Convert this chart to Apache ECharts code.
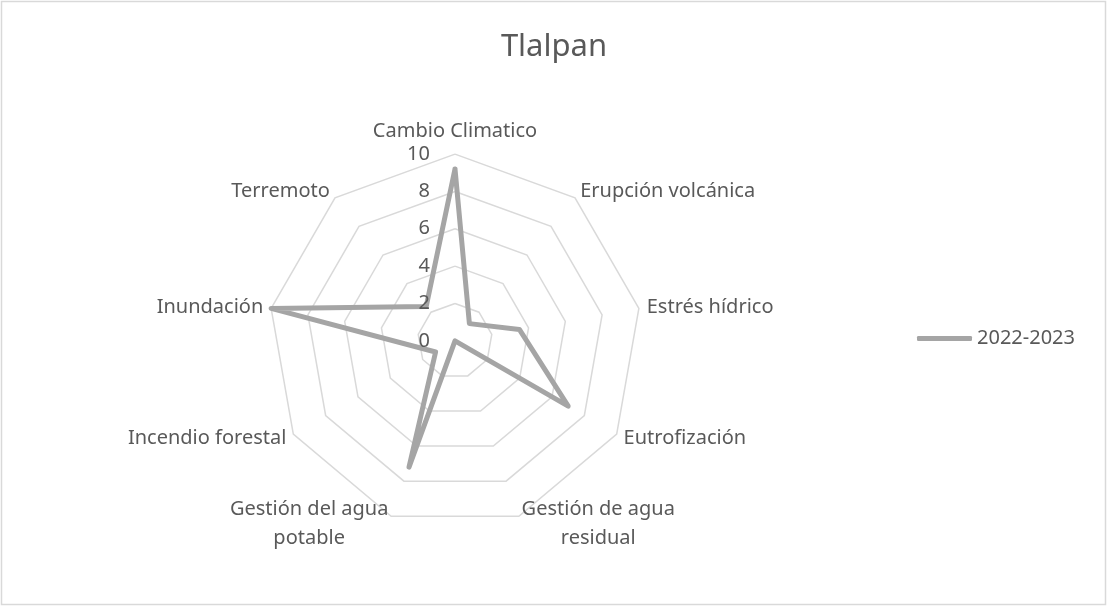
<!DOCTYPE html>
<html>
<head>
<meta charset="utf-8">
<script src="https://cdn.jsdelivr.net/npm/echarts@6/dist/echarts.min.js"></script>
<style>
  html, body { margin: 0; padding: 0; background: #fff; }
  #chart { width: 1108px; height: 607px; }
</style>
</head>
<body>
<div id="chart"></div>
<script>
// categories in the order Excel draws them (clockwise from the top)
const categories = [
  'Cambio Climatico',
  'Erupción volcánica',
  'Estrés hídrico',
  'Eutrofización',
  'Gestión de agua\nresidual',
  'Gestión del agua\npotable',
  'Incendio forestal',
  'Inundación',
  'Terremoto'
]
const values2022 = [9.2, 1.2, 3.5, 7, 0, 7.2, 1.2, 10, 2.4]
const seriesName = '2022-2023'
const axisMin = 0
const axisMax = 10
const axisStep = 2

const textColor = '#595959'
const font = 'Noto Sans'

// echarts radar goes counterclockwise, so walk the list backwards after the first one
const order = [0].concat(categories.map((c, i) => i).slice(1).reverse())
const indicators = order.map(i => ({ name: categories[i], min: axisMin, max: axisMax }))
const seriesValues = order.map(i => values2022[i])

const chart = echarts.init(document.getElementById('chart'))

const center = [455, 340.8]
const radius = 186.7

const option = {
  animation: false,
  backgroundColor: '#fff',
  title: {
    text: 'Tlalpan',
    left: 'center',
    top: 32,
    padding: 0,
    textStyle: { fontFamily: font, fontSize: 31, fontWeight: 'normal', color: textColor }
  },
  legend: {
    data: [seriesName],
    left: 917,
    top: 328.5,
    padding: 0,
    itemWidth: 55,
    itemHeight: 5,
    itemGap: 5,
    icon: 'roundRect',
    textStyle: { fontFamily: font, fontSize: 20, color: textColor }
  },
  radar: {
    center: center,
    radius: radius,
    startAngle: 90,
    splitNumber: (axisMax - axisMin) / axisStep,
    shape: 'polygon',
    indicator: indicators,
    nameGap: 8,
    axisName: {
      color: textColor,
      fontFamily: font,
      fontSize: 20,
      lineHeight: 29,
      // two-line names are centred line by line, like Excel does
      formatter: (name) => name.split('\n').map(l => '{c|' + l + '}').join('\n'),
      rich: {
        c: { align: 'center', color: textColor, fontFamily: font, fontSize: 20, lineHeight: 29 }
      }
    },
    axisLine: { show: false },
    axisTick: { show: false },
    axisLabel: { show: false },
    splitArea: { show: false },
    splitLine: { lineStyle: { color: '#D9D9D9', width: 1.5 } }
  },
  // polar overlay only to print the value labels along the top spoke
  polar: { center: center, radius: radius },
  angleAxis: { show: false, startAngle: 90, min: 0, max: 360 },
  radiusAxis: {
    min: axisMin,
    max: axisMax,
    interval: axisStep,
    z: 5,
    axisLine: { show: false },
    axisTick: { show: false },
    splitLine: { show: false },
    axisLabel: { fontFamily: font, fontSize: 20, color: textColor, margin: 25 }
  },
  graphic: [{
    type: 'rect',
    shape: { x: 1.5, y: 1.5, width: 1104, height: 603 },
    style: { fill: 'none', stroke: '#D9D9D9', lineWidth: 1.5 },
    silent: true
  }],
  series: [{
    name: seriesName,
    type: 'radar',
    z: 2,
    symbol: 'none',
    itemStyle: { color: '#A5A5A5' },
    lineStyle: { color: '#A5A5A5', width: 5, join: 'round', cap: 'round' },
    data: [{ name: seriesName, value: seriesValues }]
  }]
}

chart.setOption(option)
</script>
</body>
</html>
